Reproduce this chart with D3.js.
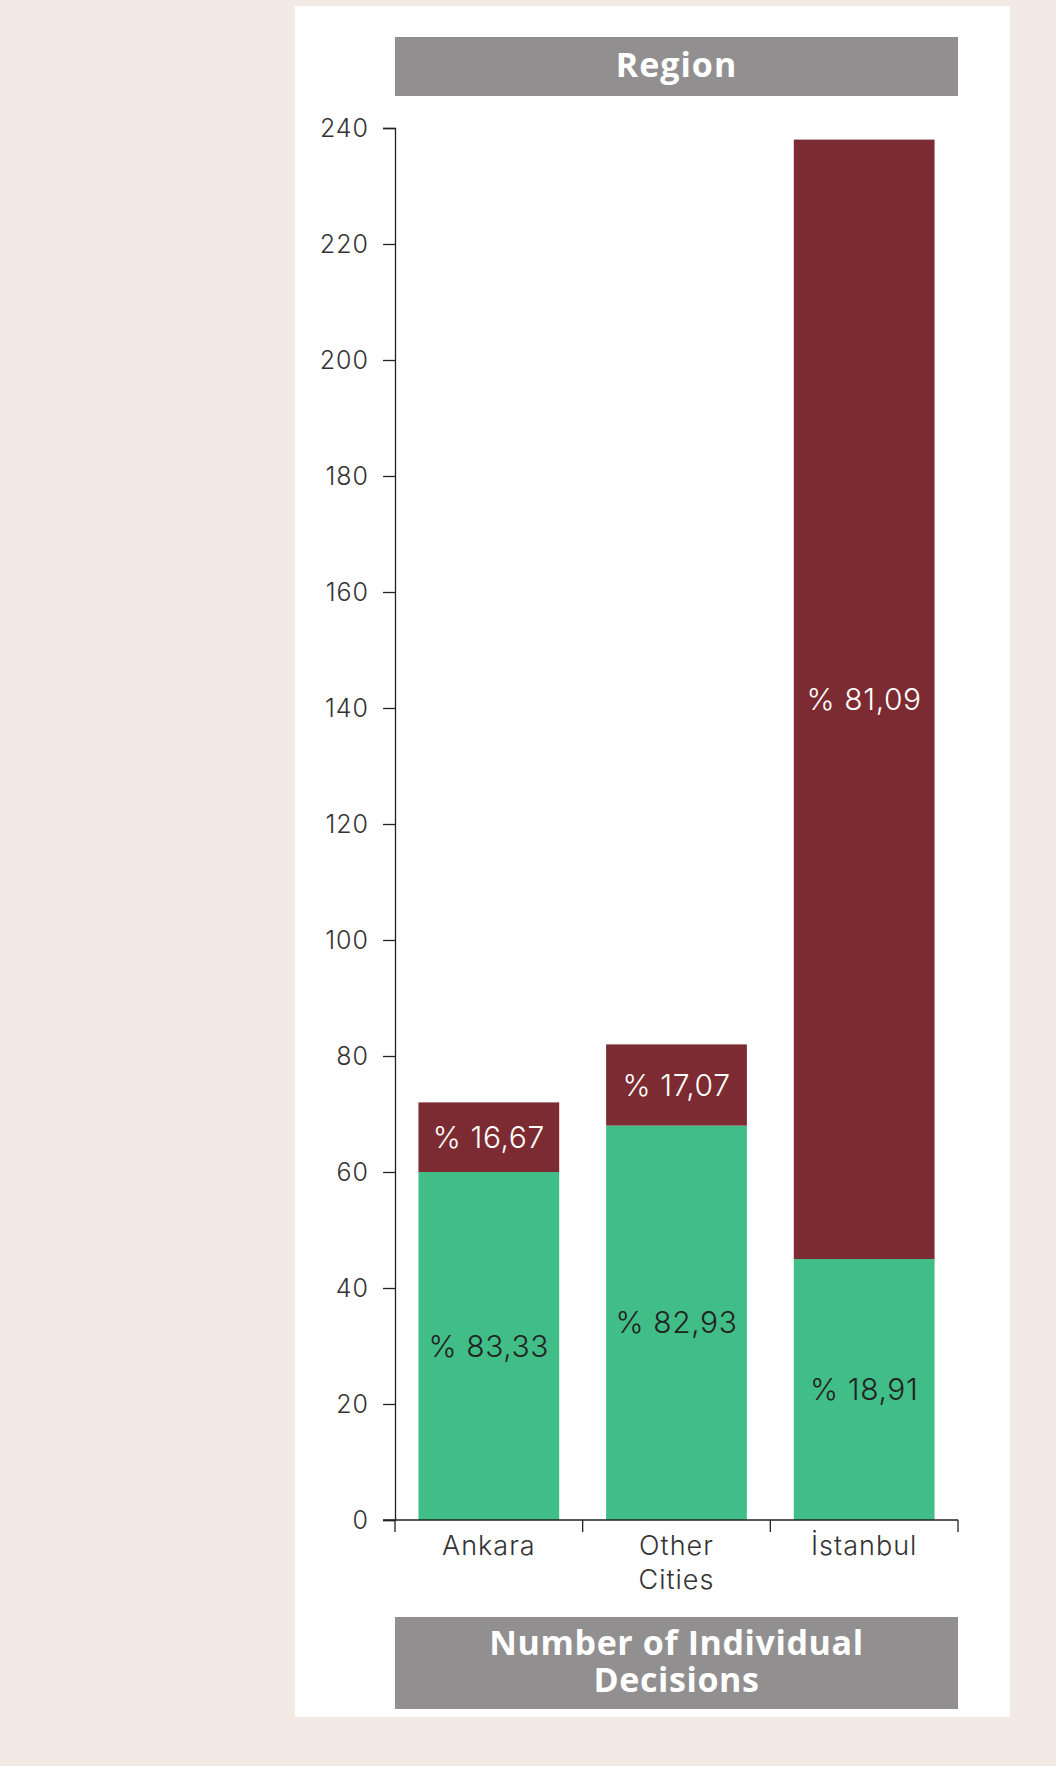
<!DOCTYPE html>
<html>
<head>
<meta charset="utf-8">
<script src="https://cdn.jsdelivr.net/npm/d3@7"></script>
<style>
  html, body { margin: 0; padding: 0; background: #f3eae5; }
  svg { display: block; }
</style>
</head>
<body>
<div class="chart"></div>
<script>
// data
var categories = ["Ankara", "Other Cities", "İstanbul"];
var categoryLines = [["Ankara"], ["Other", "Cities"], ["İstanbul"]];
var lowerValues = [60, 68, 45];   // green segment
var upperValues = [12, 14, 193];  // dark red segment
var yTicks = [0, 20, 40, 60, 80, 100, 120, 140, 160, 180, 200, 220, 240];
var topTitle = "Region";
var bottomTitle = ["Number of Individual", "Decisions"];

var W = 1056, H = 1766;
var lightFont = "Inter, 'Open Sans', sans-serif";
var boldFont = "'Open Sans', Inter, sans-serif";
var green = "#41be87", red = "#7b2b31", gray = "#918f90";

var svg = d3.select(".chart").append("svg").attr("width", W).attr("height", H);
svg.append("rect").attr("x", 0).attr("y", 0).attr("width", W).attr("height", H).attr("fill", "#f3eae5");
svg.append("rect").attr("x", 295).attr("y", 6).attr("width", 715).attr("height", 1711).attr("fill", "#fff");

var pLeft = 395, pRight = 958, pTop = 128, pBottom = 1520;

var x = d3.scaleBand().domain(categories).range([pLeft, pRight]).paddingInner(0.25).paddingOuter(0.125);
var y = d3.scaleLinear().domain([0, 240]).range([pBottom, pTop]);

// header
svg.append("rect").attr("x", pLeft).attr("y", 37).attr("width", pRight - pLeft).attr("height", 59).attr("fill", gray);
svg.append("text").attr("x", (pLeft + pRight) / 2).attr("y", 65).attr("dy", "0.35em")
    .attr("text-anchor", "middle").attr("fill", "#fff").attr("font-family", boldFont)
    .attr("font-weight", 700).attr("font-size", 34).attr("letter-spacing", 1).text(topTitle);

// y axis
var yAxis = svg.append("g").attr("transform", "translate(" + pLeft + ",0)")
    .call(d3.axisLeft(y).tickValues(yTicks).tickSize(12).tickPadding(14));
yAxis.select(".domain").attr("stroke", "#222").attr("stroke-width", 1.3);
yAxis.selectAll(".tick line").attr("stroke", "#222").attr("stroke-width", 1.3);
yAxis.selectAll(".tick text").attr("fill", "#333").attr("font-family", lightFont)
    .attr("font-weight", 300).attr("font-size", 25).attr("letter-spacing", 1);

// bars
var rows = categories.map(function(c, i) {
    var total = lowerValues[i] + upperValues[i];
    return { cat: c, lo: lowerValues[i], hi: upperValues[i], total: total };
});
var fmt = function(v) { return "% " + d3.format(".2f")(v).replace(".", ","); };

var bars = svg.append("g");
bars.selectAll(".lo").data(rows).enter().append("rect")
    .attr("x", function(d) { return x(d.cat); })
    .attr("y", function(d) { return y(d.lo); })
    .attr("width", x.bandwidth())
    .attr("height", function(d) { return y(0) - y(d.lo); })
    .attr("fill", green);
bars.selectAll(".hi").data(rows).enter().append("rect")
    .attr("x", function(d) { return x(d.cat); })
    .attr("y", function(d) { return y(d.total); })
    .attr("width", x.bandwidth())
    .attr("height", function(d) { return y(d.lo) - y(d.total); })
    .attr("fill", red);

bars.selectAll(".lolab").data(rows).enter().append("text")
    .attr("x", function(d) { return x(d.cat) + x.bandwidth() / 2; })
    .attr("y", function(d) { return (y(0) + y(d.lo)) / 2; })
    .attr("dy", "0.35em").attr("text-anchor", "middle")
    .attr("fill", "#222").attr("font-family", lightFont).attr("font-weight", 300).attr("font-size", 30)
    .attr("letter-spacing", 0.6)
    .text(function(d) { return fmt(d.lo / d.total * 100); });
bars.selectAll(".hilab").data(rows).enter().append("text")
    .attr("x", function(d) { return x(d.cat) + x.bandwidth() / 2; })
    .attr("y", function(d) { return (y(d.lo) + y(d.total)) / 2; })
    .attr("dy", "0.35em").attr("text-anchor", "middle")
    .attr("fill", "#fff").attr("font-family", lightFont).attr("font-weight", 300).attr("font-size", 30)
    .attr("letter-spacing", 0.6)
    .text(function(d) { return fmt(d.hi / d.total * 100); });

// x axis: line with ticks at band edges
var xg = svg.append("g");
xg.append("line").attr("x1", pLeft - 12).attr("x2", pRight).attr("y1", pBottom).attr("y2", pBottom)
    .attr("stroke", "#222").attr("stroke-width", 1.3);
var edges = categories.map(function(c) { return x(c) - x.step() * x.paddingOuter(); }).concat([pRight]);
xg.selectAll(".edge").data(edges).enter().append("line")
    .attr("x1", function(d) { return d; }).attr("x2", function(d) { return d; })
    .attr("y1", pBottom).attr("y2", pBottom + 12)
    .attr("stroke", "#222").attr("stroke-width", 1.3);
var labels = xg.selectAll(".cat").data(categories).enter().append("text")
    .attr("x", function(d) { return x(d) + x.bandwidth() / 2; })
    .attr("y", 1546).attr("text-anchor", "middle")
    .attr("fill", "#333").attr("font-family", lightFont).attr("font-weight", 300).attr("font-size", 27)
    .attr("letter-spacing", 1);
labels.each(function(d, i) {
    var t = d3.select(this);
    categoryLines[i].forEach(function(line, j) {
        t.append("tspan").attr("x", x(d) + x.bandwidth() / 2).attr("dy", j === 0 ? "0.35em" : 34).text(line);
    });
});

// footer title
svg.append("rect").attr("x", pLeft).attr("y", 1617).attr("width", pRight - pLeft).attr("height", 92).attr("fill", gray);
var ft = svg.append("text").attr("text-anchor", "middle").attr("fill", "#fff")
    .attr("font-family", boldFont).attr("font-weight", 700).attr("font-size", 34).attr("letter-spacing", 0.6);
bottomTitle.forEach(function(line, j) {
    ft.append("tspan").attr("x", (pLeft + pRight) / 2).attr("y", j === 0 ? 1643 : 1680).attr("dy", "0.35em").text(line);
});
</script>
</body>
</html>
